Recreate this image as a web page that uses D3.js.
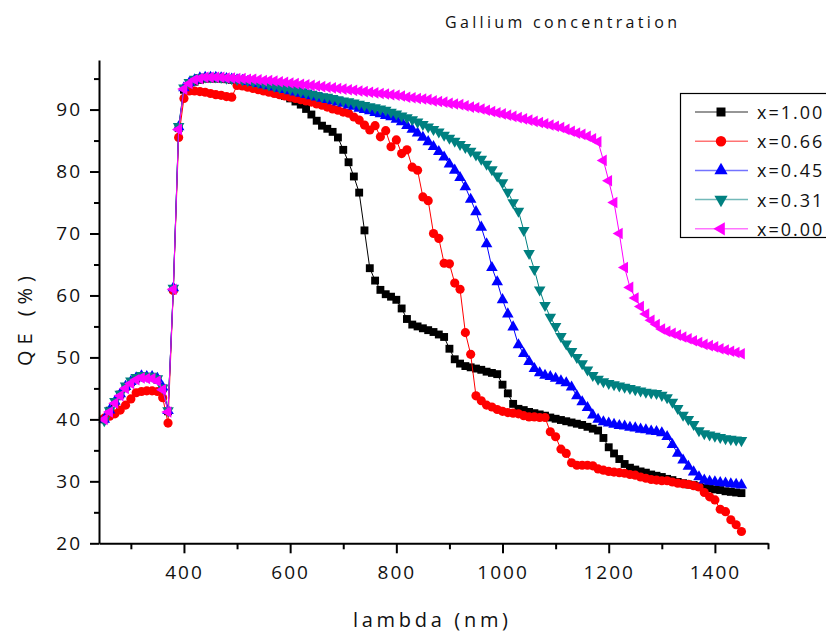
<!DOCTYPE html>
<html>
<head>
<meta charset="utf-8">
<script src="https://cdn.jsdelivr.net/npm/d3@7"></script>
<style>
  body { margin: 0; background: #fff; }
  svg { font-family: "Open Sans", sans-serif; }
  .axis path, .axis line { stroke: #000; stroke-width: 2; }
  .axis text { font-size: 19px; letter-spacing: 2px; fill: #111; font-family: "Open Sans", sans-serif; }
</style>
</head>
<body>
<div id="chart"></div>
<script>
var width = 826,
    height = 633;

// wavelength grid (nm), 250..1450 every 10 nm
var lambda = d3.range(250, 1451, 10);

var qeX100 = [40, 41.4, 42.8, 44, 45.2,
  46, 46.6, 46.9, 46.8, 46.8, 46.4, 45, 41.3, 61, 87,
  93.2, 94, 94.5, 94.8, 95, 95, 95, 95, 94.9, 94.8,
  94.6, 94.4, 94.2, 94, 93.8, 93.5, 93.2, 92.9, 92.5, 92.2,
  91.8, 91.3, 90.8, 90.1, 89.2, 88.2, 87.4, 86.9, 86.4, 85.5,
  83.5, 81.5, 79.2, 76.6, 70.5, 64.4, 62.4, 60.9, 60.2, 59.8,
  59.3, 57.9, 56.2, 55.3, 55, 54.7, 54.4, 54.1, 53.7, 53.3,
  51.4, 49.7, 49, 48.6, 48.4, 48.2, 48, 47.7, 47.5, 47.3,
  45.6, 44.2, 42.5, 41.7, 41.5, 41.2, 41, 40.8, 40.6, 40.3,
  40.1, 39.9, 39.7, 39.5, 39.3, 39.1, 38.8, 38.5, 38.2, 37,
  35.5, 34.5, 33.6, 32.8, 32.2, 31.9, 31.6, 31.4, 31.1, 30.9,
  30.7, 30.4, 30.2, 29.9, 29.7, 29.5, 29.4, 29.2, 29, 28.9,
  28.7, 28.6, 28.4, 28.3, 28.2, 28.1];

var qeX066 = [40.2, 40.5, 40.9, 41.5, 42.3,
  43.3, 44.3, 44.5, 44.6, 44.6, 44.5, 43.5, 39.4, 60.8, 85.5,
  91.8, 93, 93, 92.9, 92.8, 92.6, 92.4, 92.3, 92.1, 92,
  93.9, 93.8, 93.6, 93.4, 93.2, 93, 92.8, 92.6, 92.4, 92.2,
  92, 91.8, 91.6, 91.4, 91.2, 90.9, 90.7, 90.4, 90.1, 89.9,
  89.6, 89.4, 88.8, 88.3, 87.5, 86.7, 87.4, 85.6, 86.6, 84,
  85.1, 82.9, 83.5, 80.7, 80.2, 75.9, 75.3, 70, 69.2, 65.2,
  65.1, 62, 61, 54, 50.5, 43.8, 43, 42.3, 42, 41.6,
  41.3, 41.1, 41, 40.9, 40.6, 40.4, 40.4, 40.3, 40.3, 38,
  37.2, 35.2, 34.5, 33, 32.6, 32.6, 32.6, 32.5, 32, 31.8,
  31.6, 31.5, 31.4, 31.3, 31.1, 31, 30.7, 30.5, 30.3, 30.2,
  30.1, 30.1, 29.9, 29.7, 29.6, 29.5, 29.3, 29.1, 28.2, 27.5,
  27, 25.5, 25.1, 23.8, 23, 21.9];

var qeX045 = [40, 41.5, 42.9, 44.1, 45.3,
  46.1, 46.7, 47, 46.9, 46.9, 46.6, 45.2, 41.4, 61.2, 87.2,
  93.5, 94.3, 94.8, 95.1, 95.2, 95.2, 95.2, 95.1, 95, 94.9,
  94.8, 94.7, 94.5, 94.4, 94.2, 94, 93.8, 93.6, 93.4, 93.2,
  93, 92.8, 92.6, 92.4, 92.2, 92, 91.8, 91.6, 91.4, 91.2,
  91, 90.7, 90.5, 90.2, 90, 89.8, 89.5, 89.3, 89, 88.8,
  88.4, 88, 87.4, 86.8, 86.2, 85.5, 84.8, 84, 83.2, 82.3,
  81.2, 80.2, 79, 77.5, 75.5, 73.5, 71, 68.3, 64.5, 62.2,
  59.3, 57, 54.9, 52, 50.6, 49.3, 48.2, 47.5, 47.1, 46.9,
  46.6, 46.2, 45.9, 45.2, 43.8, 42.8, 41.9, 40.7, 40, 39.6,
  39.4, 39.2, 39, 38.9, 38.7, 38.6, 38.4, 38.3, 38.1, 38,
  37.8, 37.2, 35.9, 34.5, 33.4, 32.4, 31.5, 30.7, 30.2, 30,
  29.9, 29.8, 29.7, 29.6, 29.5, 29.4];

var qeX031 = [39.8, 41.4, 42.9, 44.1, 45.4,
  46.2, 46.8, 47.1, 47, 47, 46.6, 45.1, 41.4, 61.2, 87.3,
  93.5, 94.4, 94.9, 95.2, 95.3, 95.3, 95.3, 95.2, 95.1, 95,
  94.9, 94.8, 94.7, 94.5, 94.4, 94.2, 94, 93.8, 93.6, 93.5,
  93.3, 93.1, 92.9, 92.7, 92.5, 92.3, 92.1, 92, 91.8, 91.6,
  91.4, 91.3, 91.1, 90.9, 90.7, 90.5, 90.3, 90.1, 89.9, 89.6,
  89.3, 89, 88.7, 88.4, 88, 87.6, 87.2, 86.8, 86.4, 85.9,
  85.4, 84.9, 84.4, 83.9, 83.3, 82.7, 82, 81.2, 80.3, 79.3,
  78.2, 76.7, 75, 73.6, 70.5, 66.8, 64.2, 60.9, 58.4, 56.5,
  55, 53.4, 52.2, 51, 50, 49, 48, 47.1, 46.5, 46.1,
  45.8, 45.6, 45.4, 45.2, 45, 44.8, 44.6, 44.4, 44.3, 44.2,
  43.9, 43.5, 42.8, 41.8, 40.7, 40, 39.2, 38.2, 37.7, 37.5,
  37.3, 37.1, 36.9, 36.8, 36.7, 36.6];

var qeX000 = [40, 41.2, 42.6, 43.8, 45,
  45.8, 46.4, 46.7, 46.6, 46.6, 46.2, 44.8, 41.2, 61, 86.8,
  93.3, 94.2, 94.8, 95, 95.2, 95.2, 95.2, 95.2, 95.1, 95.1,
  95, 95, 94.9, 94.9, 94.8, 94.7, 94.7, 94.6, 94.5, 94.4,
  94.3, 94.2, 94.1, 94, 93.9, 93.8, 93.7, 93.6, 93.5, 93.4,
  93.3, 93.2, 93.1, 93, 92.9, 92.8, 92.7, 92.6, 92.5, 92.4,
  92.3, 92.2, 92, 91.9, 91.8, 91.7, 91.6, 91.4, 91.3, 91.2,
  91, 90.9, 90.8, 90.6, 90.4, 90.3, 90.1, 89.9, 89.7, 89.5,
  89.3, 89.1, 88.9, 88.7, 88.5, 88.3, 88.1, 87.9, 87.7, 87.5,
  87.3, 87.1, 86.8, 86.5, 86.2, 86, 85.7, 85.3, 84.8, 81.8,
  78.5, 75, 70, 64.5, 61.3, 59.6, 58.2, 57, 56, 55.3,
  54.6, 54.2, 53.9, 53.6, 53.3, 53, 52.7, 52.4, 52.1, 51.9,
  51.7, 51.4, 51.2, 51, 50.8, 50.6];

var seriesNames = ['x=1.00', 'x=0.66', 'x=0.45', 'x=0.31', 'x=0.00'];
var seriesValues = [qeX100, qeX066, qeX045, qeX031, qeX000];
var seriesColors = ['#000000', '#ff0000', '#0000ff', '#008080', '#ff00ff'];

var xMajor = [400, 600, 800, 1000, 1200, 1400],
    xMinor = [300, 500, 700, 900, 1100, 1300, 1500],
    yMajor = [20, 30, 40, 50, 60, 70, 80, 90],
    yMinor = [25, 35, 45, 55, 65, 75, 85, 95];

var svg = d3.select('#chart')
    .append('svg')
    .attr('width', width)
    .attr('height', height);

var x = d3.scaleLinear().domain([240, 1500]).range([99, 768]);
var y = d3.scaleLinear().domain([20, 98]).range([543.3, 60]);

// marker shapes: square, circle, up, down, left triangle
var symbols = [
    {type: d3.symbolSquare, size: 62, rot: 0},
    {type: d3.symbolCircle, size: 66, rot: 0},
    {type: d3.symbolTriangle, size: 58, rot: 0},
    {type: d3.symbolTriangle, size: 58, rot: 180},
    {type: d3.symbolTriangle, size: 58, rot: -90}
];

var line = d3.line()
    .x((d, i) => x(lambda[i]))
    .y(d => y(d));

seriesValues.forEach((vals, k) => {
    var g = svg.append('g').attr('class', 'series');
    g.append('path')
        .attr('d', line(vals))
        .attr('fill', 'none')
        .attr('stroke', seriesColors[k])
        .attr('stroke-width', 1);
    var sym = d3.symbol().type(symbols[k].type).size(symbols[k].size);
    g.selectAll('path.mark')
        .data(vals)
        .enter()
        .append('path')
        .attr('class', 'mark')
        .attr('d', sym)
        .attr('fill', seriesColors[k])
        .attr('transform', (d, i) => 'translate(' + x(lambda[i]) + ',' + y(d) + ') rotate(' + symbols[k].rot + ')');
});

// axes
svg.append('g')
    .attr('class', 'axis')
    .attr('transform', 'translate(0,' + y(20) + ')')
    .call(d3.axisBottom(x).tickValues(xMajor).tickSize(10).tickSizeOuter(0).tickPadding(12).tickFormat(d3.format('d')));
svg.append('g')
    .attr('class', 'axis')
    .attr('transform', 'translate(0,' + y(20) + ')')
    .call(d3.axisBottom(x).tickValues(xMinor).tickSize(6).tickSizeOuter(0).tickFormat(''))
    .select('.domain').remove();

svg.append('g')
    .attr('class', 'axis')
    .attr('transform', 'translate(' + x(240) + ',0)')
    .call(d3.axisLeft(y).tickValues(yMajor).tickSize(9).tickSizeOuter(0).tickPadding(8));
svg.append('g')
    .attr('class', 'axis')
    .attr('transform', 'translate(' + x(240) + ',0)')
    .call(d3.axisLeft(y).tickValues(yMinor).tickSize(5).tickSizeOuter(0).tickFormat(''))
    .select('.domain').remove();

// titles
svg.append('text')
    .attr('x', 445)
    .attr('y', 28)
    .attr('textLength', 232)
    .attr('lengthAdjust', 'spacing')
    .style('font-size', '16px')
    .style('fill', '#111')
    .text('Gallium concentration');

svg.append('text')
    .attr('x', 353)
    .attr('y', 627)
    .attr('textLength', 155)
    .attr('lengthAdjust', 'spacing')
    .style('font-size', '20px')
    .style('fill', '#111')
    .text('lambda (nm)');

svg.append('text')
    .attr('transform', 'translate(32,366) rotate(-90)')
    .attr('textLength', 90)
    .attr('lengthAdjust', 'spacing')
    .style('font-size', '20px')
    .style('fill', '#111')
    .text('QE (%)');

// legend
var legend = svg.append('g').attr('class', 'legend');
legend.append('rect')
    .attr('x', 680.5)
    .attr('y', 93.5)
    .attr('width', 160)
    .attr('height', 144)
    .attr('fill', '#fff')
    .attr('stroke', '#000')
    .attr('stroke-width', 1.2);

seriesNames.forEach((name, k) => {
    var ly = 112 + k * 29.2;
    legend.append('line')
        .attr('x1', 695).attr('x2', 748)
        .attr('y1', ly).attr('y2', ly)
        .attr('stroke', seriesColors[k])
        .attr('stroke-opacity', 0.55)
        .attr('stroke-width', 1.5);
    legend.append('path')
        .attr('d', d3.symbol().type(symbols[k].type).size(symbols[k].size * 1.3))
        .attr('fill', seriesColors[k])
        .attr('transform', 'translate(721,' + ly + ') rotate(' + symbols[k].rot + ')');
    legend.append('text')
        .attr('x', 757)
        .attr('y', ly + 7)
        .style('font-size', '18px')
        .style('letter-spacing', '2px')
        .style('fill', '#111')
        .text(name);
});
</script>
</body>
</html>
